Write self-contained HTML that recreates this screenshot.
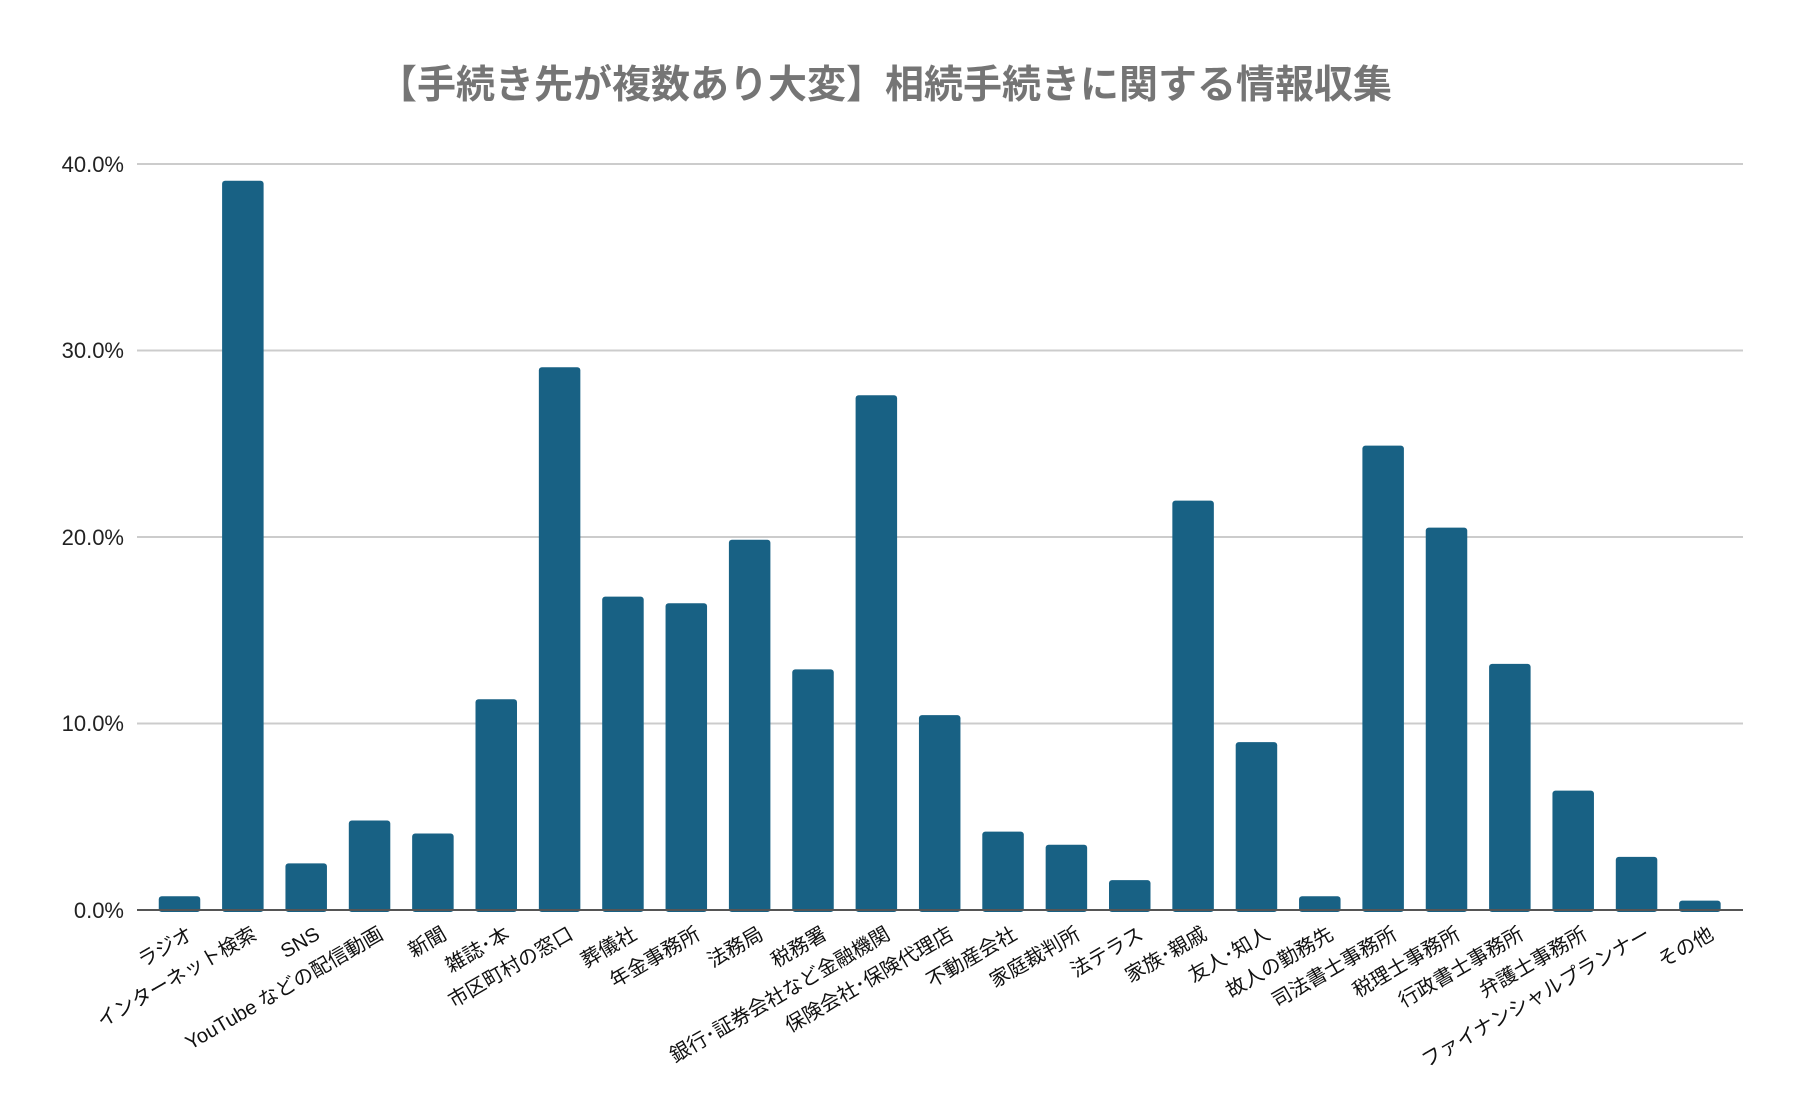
<!DOCTYPE html>
<html><head><meta charset="utf-8"><style>
html,body{margin:0;padding:0;background:#fff;}
svg{display:block;}
text{font-family:"Liberation Sans","Noto Sans CJK JP",sans-serif;}
</style></head><body>
<svg width="1798" height="1113" viewBox="0 0 1798 1113" xmlns="http://www.w3.org/2000/svg">
<text x="885" y="98" text-anchor="middle" font-size="39" font-weight="bold" fill="#757575">【手続き先が複数あり大変】相続手続きに関する情報収集</text>
<g stroke="#cccccc" stroke-width="2">
<line x1="137" y1="164" x2="1743" y2="164"/>
<line x1="137" y1="350.5" x2="1743" y2="350.5"/>
<line x1="137" y1="537" x2="1743" y2="537"/>
<line x1="137" y1="723.5" x2="1743" y2="723.5"/>
</g>
<g font-size="22" fill="#222" text-anchor="end">
<text x="124" y="172">40.0%</text>
<text x="124" y="358">30.0%</text>
<text x="124" y="545">20.0%</text>
<text x="124" y="731">10.0%</text>
<text x="124" y="918">0.0%</text>
</g>
<g id="bars" fill="#186184"></g>
<line x1="137" y1="910" x2="1743" y2="910" stroke="#555" stroke-width="2"/>
<g id="labels" font-size="20" fill="#111" text-anchor="end"></g>
<script>
var vals=[0.74,39.1,2.5,4.8,4.1,11.3,29.1,16.8,16.45,19.85,12.9,27.6,10.45,4.2,3.5,1.6,21.95,9.0,0.74,24.9,20.5,13.2,6.4,2.85,0.5];
var labs=["ラジオ","インターネット検索","SNS","YouTube などの配信動画","新聞","雑誌･本","市区町村の窓口","葬儀社","年金事務所","法務局","税務署","銀行･証券会社など金融機関","保険会社･保険代理店","不動産会社","家庭裁判所","法テラス","家族･親戚","友人･知人","故人の勤務先","司法書士事務所","税理士事務所","行政書士事務所","弁護士事務所","ファイナンシャルプランナー","その他"];
var ns="http://www.w3.org/2000/svg",b=document.getElementById("bars"),l=document.getElementById("labels");
for(var i=0;i<25;i++){var cx=179.5+i*63.35,h=vals[i]*18.65;
var r=document.createElementNS(ns,"rect");r.setAttribute("x",cx-20.75);r.setAttribute("y",910-h);r.setAttribute("width",41.5);r.setAttribute("height",h+2);r.setAttribute("rx",3);b.appendChild(r);
var t=document.createElementNS(ns,"text");var x=cx+15,y=938;t.setAttribute("x",x);t.setAttribute("y",y);t.setAttribute("transform","rotate(-30 "+x+" "+y+")");t.textContent=labs[i];l.appendChild(t);}
</script>
</svg>
</body></html>
